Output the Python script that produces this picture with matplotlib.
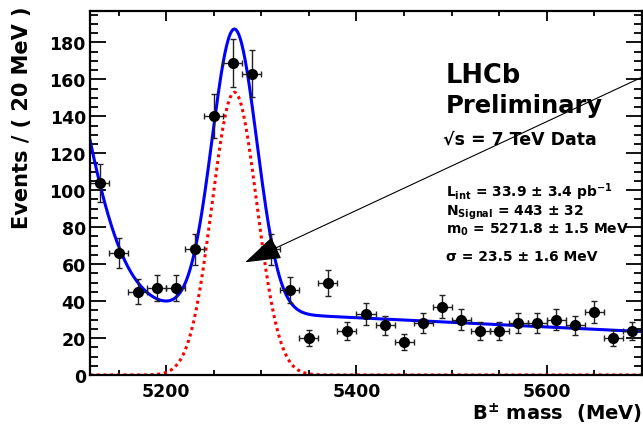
import numpy as np
import matplotlib
matplotlib.use('Agg')
import matplotlib.pyplot as plt
from matplotlib.ticker import MultipleLocator

plt.rcParams['font.family'] = ['DejaVu Sans']
plt.rcParams['font.weight'] = 'bold'
plt.rcParams['axes.labelweight'] = 'bold'
plt.rcParams['mathtext.default'] = 'bf'

# binned data (20 MeV bins)
mass = [5130, 5150, 5170, 5190, 5210, 5230, 5250, 5270, 5290, 5310,
        5330, 5350, 5370, 5390, 5410, 5430, 5450, 5470, 5490, 5510,
        5530, 5550, 5570, 5590, 5610, 5630, 5650, 5670, 5690]
events = [104, 66, 45, 47, 47, 68, 140, 169, 163, 68,
          46, 20, 50, 24, 33, 27, 18, 28, 37, 30,
          24, 24, 28, 28, 30, 27, 34, 20, 24]
bin_half = 10

# fit components
m0 = 5271.8
sigma = 23.5
sig_peak = 153
lin_at_5120 = 38.0
lin_slope = -0.025
low_peak = 213.0
low_mean = 5056.0
low_width = 48.5

x = np.linspace(5120, 5700, 1000)
signal = sig_peak * np.exp(-0.5 * ((x - m0) / sigma) ** 2)
background = lin_at_5120 + lin_slope * (x - 5120) \
    + low_peak * np.exp(-0.5 * ((x - low_mean) / low_width) ** 2)
total = signal + background

fig = plt.figure(figsize=(6.43, 4.35), dpi=100)
ax = fig.add_axes([90 / 643, 59 / 435, 552 / 643, 364 / 435])

ax.plot(x, signal, color='red', lw=2.2, ls=(0, (1, 1.2)))
ax.plot(x, total, color='blue', lw=2.2)
ax.errorbar(mass, events, yerr=np.sqrt(events), xerr=bin_half, fmt='o',
            color='black', ecolor='#222222', ms=7, elinewidth=1,
            capsize=2, capthick=1)

ax.set_xlim(5120, 5700)
ax.set_ylim(0, 197)

ax.xaxis.set_major_locator(MultipleLocator(200))
ax.xaxis.set_minor_locator(MultipleLocator(50))
ax.yaxis.set_major_locator(MultipleLocator(20))
ax.yaxis.set_minor_locator(MultipleLocator(5))
ax.tick_params(which='both', direction='in', top=True, right=True,
               labelsize=12.5, width=1.3)
ax.tick_params(axis='x', which='major', length=7.5, pad=5)
ax.tick_params(axis='x', which='minor', length=3.8)
ax.tick_params(axis='y', which='major', length=11.5, pad=3)
ax.tick_params(axis='y', which='minor', length=5.8)
for s in ax.spines.values():
    s.set_linewidth(1.6)

ax.set_xlabel('B$^{\\pm}$ mass  (MeV)', fontsize=14, fontweight='bold', ha='right')
ax.xaxis.set_label_coords(1.0, -0.07)
ax.set_ylabel('Events / ( 20 MeV )', fontsize=15, fontweight='bold')
ax.yaxis.set_label_coords(-0.105, 0.71)

tx = 0.645
ax.text(tx, 0.805, 'LHCb', fontsize=18.5, transform=ax.transAxes, va='baseline')
ax.text(tx, 0.7225, 'Preliminary', fontsize=17.5, transform=ax.transAxes, va='baseline')
ax.text(tx - 0.006, 0.635, '\u221as = 7 TeV Data', fontsize=12.5,
        transform=ax.transAxes, va='baseline')
ax.text(tx, 0.491, 'L$_{int}$ = 33.9 \u00b1 3.4 pb$^{-1}$', fontsize=10,
        transform=ax.transAxes, va='baseline')
ax.text(tx, 0.441, 'N$_{Signal}$ = 443 \u00b1 32', fontsize=10,
        transform=ax.transAxes, va='baseline')
ax.text(tx, 0.391, 'm$_{0}$ = 5271.8 \u00b1 1.5 MeV', fontsize=10,
        transform=ax.transAxes, va='baseline')
ax.text(tx, 0.316, '\u03c3 = 23.5 \u00b1 1.6 MeV', fontsize=10,
        transform=ax.transAxes, va='baseline')

ax.annotate('', xy=(5283, 61), xycoords='data',
            xytext=(1.004, 0.821), textcoords='axes fraction',
            annotation_clip=False,
            arrowprops=dict(arrowstyle='-|>,head_length=2.3,head_width=0.76',
                            color='black', lw=0.8, shrinkA=0, shrinkB=0))

fig.savefig('out.png', dpi=100)
